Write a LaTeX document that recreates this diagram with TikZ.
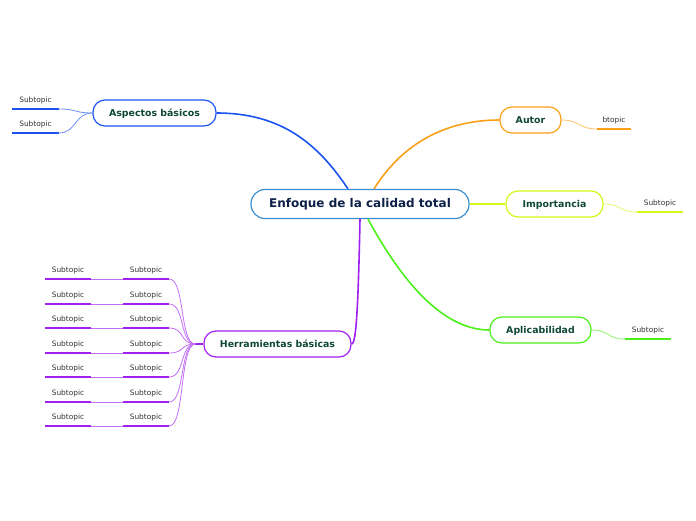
\documentclass[tikz,border=0pt]{standalone}
\usepackage{fontspec}
\setmainfont{DejaVu Sans}
\definecolor{cenline}{RGB}{58,142,208}
\definecolor{centxt}{RGB}{14,32,72}
\definecolor{topictxt}{RGB}{16,72,56}
\definecolor{subtxt}{RGB}{50,50,50}
\definecolor{cblue}{RGB}{28,84,240}
\definecolor{corange}{RGB}{250,160,24}
\definecolor{cyellow}{RGB}{214,246,24}
\definecolor{cgreen}{RGB}{76,240,24}
\definecolor{cpurple}{RGB}{160,32,240}

\begin{document}
\begin{tikzpicture}[x=1pt,y=-1pt,
    topic/.style={draw=#1,line width=1.2pt,rounded corners=12pt,fill=white,minimum height=26pt,
      inner xsep=0pt,text height=0.73em,text depth=0.05em,text=topictxt,font=\bfseries\fontsize{9.4}{11}\selectfont},
    branch/.style={draw=#1,line width=1.6pt},
    twig/.style={draw=#1!65,line width=0.8pt},
    subt/.style={minimum width=46pt,inner xsep=0pt,inner ysep=5pt,text height=5.5pt,text depth=1.5pt,
      anchor=south,text=subtxt,font=\fontsize{7.4}{8}\selectfont,
      append after command={(\tikzlastnode.south west) edge[draw=#1,line width=2pt] (\tikzlastnode.south east)}}]
        \useasboundingbox (0,0) rectangle (696,520);
        \node[topic=cenline,text=centxt,minimum width=218pt,minimum height=29pt,rounded corners=14pt,
          font=\bfseries\fontsize{12}{14}\selectfont] (cen) at (360,204) {Enfoque de la calidad total};
        \node[topic=cblue,minimum width=123pt] (asp) at (154.5,113) {Aspectos básicos};
        \node[topic=corange,minimum width=61pt] (aut) at (530.5,120) {Autor};
        \node[topic=cyellow,minimum width=97pt] (imp) at (554.5,204) {Importancia};
        \node[topic=cgreen,minimum width=101pt] (apl) at (540.5,330) {Aplicabilidad};
        \node[topic=cpurple,minimum width=147pt] (her) at (277.5,344) {Herramientas básicas};
        \draw[branch=cblue] ([xshift=-12pt]cen.north) .. controls +(-30,-45) and +(65,0) .. (asp.east);
        \draw[branch=corange] ([xshift=14pt]cen.north) .. controls +(25,-40) and +(-60,0) .. (aut.west);
        \draw[branch=cyellow] (cen.east) -- (imp.west);
        \draw[branch=cgreen] ([xshift=8pt]cen.south) .. controls +(30,55) and +(-50,0) .. (apl.west);
        \draw[branch=cpurple] (cen.south) .. controls +(-2,100) and +(4,0) .. (her.east);
        \node[subt=cblue] (asp1) at (35.5,109) {Subtopic};
        \node[subt=cblue] (asp2) at (35.5,133) {Subtopic};
        \node[subt=corange,minimum width=34pt] (aut1) at (614,129) {btopic};
        \node[subt=cyellow] (imp1) at (660,212) {Subtopic};
        \node[subt=cgreen] (apl1) at (648,339) {Subtopic};
        \draw[twig=cblue] (asp.west) .. controls +(-18,0) and +(18,0) .. (asp1.south east);
        \draw[twig=cblue] (asp.west) .. controls +(-18,0) and +(18,0) .. (asp2.south east);
        \draw[twig=corange] (aut.east) .. controls +(18,0) and +(-18,0) .. (aut1.south west);
        \draw[twig=cyellow] (imp.east) .. controls +(18,0) and +(-18,0) .. (imp1.south west);
        \draw[twig=cgreen] (apl.east) .. controls +(18,0) and +(-18,0) .. (apl1.south west);
        \draw[branch=cpurple] (her.west) -- ++(-8,0) coordinate (hstub);
        \foreach \y [count=\i] in {279,304,328,353,377,402,426} {
          \node[subt=cpurple] (hin\i) at (146,\y) {Subtopic};
          \node[subt=cpurple] (hout\i) at (68,\y) {Subtopic};
          \draw[twig=cpurple] (hstub) .. controls +(-16,0) and +(16,0) .. (hin\i.south east);
          \draw[twig=cpurple] (hin\i.south west) -- (hout\i.south east);
        }
      \end{tikzpicture}
\end{document}
